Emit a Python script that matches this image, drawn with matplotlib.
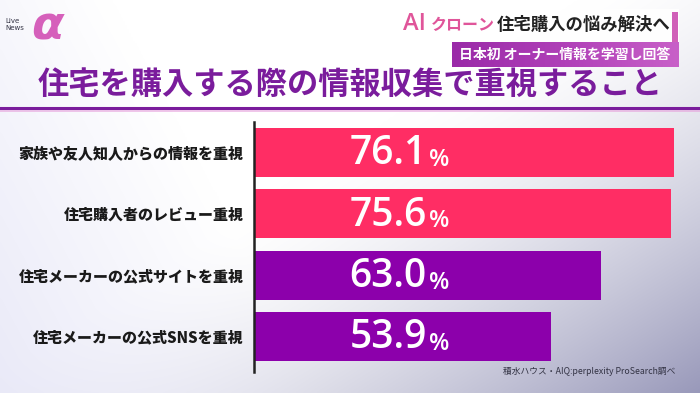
import numpy as np
import matplotlib.pyplot as plt
from matplotlib.patches import Rectangle
from matplotlib.colors import LinearSegmentedColormap

plt.rcParams['font.family'] = ['Noto Sans CJK JP', 'DejaVu Sans']

# Data
categories = ['家族や友人知人からの情報を重視',
              '住宅購入者のレビュー重視',
              '住宅メーカーの公式サイトを重視',
              '住宅メーカーの公式SNSを重視']
values = [76.1, 75.6, 63.0, 53.9]
bar_colors = ['#ff2d64', '#ff2d64', '#8c00ab', '#8c00ab']

title = '住宅を購入する際の情報収集で重視すること'
headline_ai = 'AI'
headline_pink = 'クローン'
headline_dark = '住宅購入の悩み解決へ'
subhead = '日本初 オーナー情報を学習し回答'
source = '積水ハウス・AIQ:perplexity ProSearch調べ'

W, H = 700, 393
fig = plt.figure(figsize=(W / 100, H / 100), dpi=100)

# background gradient
bg = fig.add_axes([0, 0, 1, 1])
yy, xx = np.mgrid[0:1:200j, 0:1:350j]
d = np.clip((xx * 0.9 + yy * 0.8 - 0.75) / 0.95, 0, 1)
l = np.clip(1 - (xx + 0.3 * (1 - yy)) * 2.2, 0, 1)
base = np.ones((200, 350, 3))
c_dark = np.array([0.60, 0.60, 0.73])
c_left = np.array([0.88, 0.88, 0.96])
img = base * (1 - d[..., None] ** 1.5) + c_dark * d[..., None] ** 1.5
img = img * (1 - 0.7 * l[..., None]) + c_left * 0.7 * l[..., None]
bg.imshow(img, extent=[0, W, H, 0], aspect='auto', interpolation='bicubic')
bg.set_xlim(0, W)
bg.set_ylim(H, 0)
bg.axis('off')

# logo
bg.text(47, 27, 'α', fontsize=34, color='#d24fb4', ha='center', va='center',
        family='DejaVu Sans', style='italic', fontweight='bold', alpha=0.9)
bg.text(5, 21, 'Live', fontsize=5, color='#333344', ha='left', va='center', family='DejaVu Sans')
bg.text(5, 28, 'News', fontsize=5, color='#333344', ha='left', va='center', family='DejaVu Sans')

# headline boxes
bg.add_patch(Rectangle((397, 9), 282, 33, facecolor='white', edgecolor='none', alpha=0.95))
bg.add_patch(Rectangle((672, 12), 6, 30, facecolor='#d060b8', edgecolor='none'))
grad = np.linspace(0, 1, 100)[None, :]
cm = LinearSegmentedColormap.from_list('hb', ['#9a2aa8', '#b040b8', '#c860c8'])
bg.imshow(grad, extent=[452, 679, 67, 42], cmap=cm, aspect='auto', zorder=2)
bg.text(403, 24, headline_ai, fontsize=17, color='#e0559a', ha='left', va='center',
        fontweight='semibold', family='Open Sans')
bg.text(431, 25.5, headline_pink, fontsize=11.5, color='#e0559a', ha='left', va='center',
        fontweight='bold')
bg.text(497, 25, headline_dark, fontsize=12.5, color='#222222', ha='left', va='center',
        fontweight='bold')
bg.text(565, 54.5, subhead, fontsize=10, color='white', ha='center', va='center',
        fontweight='bold', zorder=3)

# title + rule
bg.text(350, 85, title, fontsize=22.5, color='#7a1c9c', ha='center', va='center',
        fontweight='bold')
bg.plot([0, W], [108, 108], color='#7a1c9c', lw=2.2)
bg.plot([0, W], [110.5, 110.5], color='#e6a0dc', lw=1.2, alpha=0.7)

# source
bg.text(675, 371, source, fontsize=6.3, color='#333344', ha='right', va='center')

# bar chart axes (pixel layout: x=0 at 254px, 5.52 px per %)
left_px, top_px, bot_px = 253.5, 122, 372
scale = 5.52
ax = fig.add_axes([left_px / W, (H - bot_px) / H, (W - left_px) / W, (bot_px - top_px) / H])
ax.patch.set_alpha(0)
y = np.arange(len(values))
ax.barh(y, values, height=0.8, color=bar_colors, left=0)
ax.set_xlim(0, (W - left_px) / scale)
ax.set_ylim(3.58, -0.5)
for s in ['top', 'right', 'bottom']:
    ax.spines[s].set_visible(False)
ax.spines['left'].set_color('#222222')
ax.spines['left'].set_linewidth(1.8)
ax.set_xticks([])
ax.set_yticks(y)
ax.set_yticklabels(categories, fontsize=10.8, fontweight='heavy', color='#1a1a1a')
ax.tick_params(axis='y', length=0, pad=7)

fig.canvas.draw()
renderer = fig.canvas.get_renderer()
for yi, v in zip(y, values):
    t = ax.text(17.4, yi + 0.03, f'{v:.1f}', fontsize=28, color='white', ha='left',
                va='center', fontweight='semibold', family='Open Sans')
    bb = t.get_window_extent(renderer)
    x_end = ax.transData.inverted().transform((bb.x1, 0))[0]
    ax.text(x_end + 0.4, yi + 0.12, '%', fontsize=17, color='white', ha='left',
            va='center', fontweight='semibold', family='Open Sans')

fig.savefig('out.png', dpi=100)
